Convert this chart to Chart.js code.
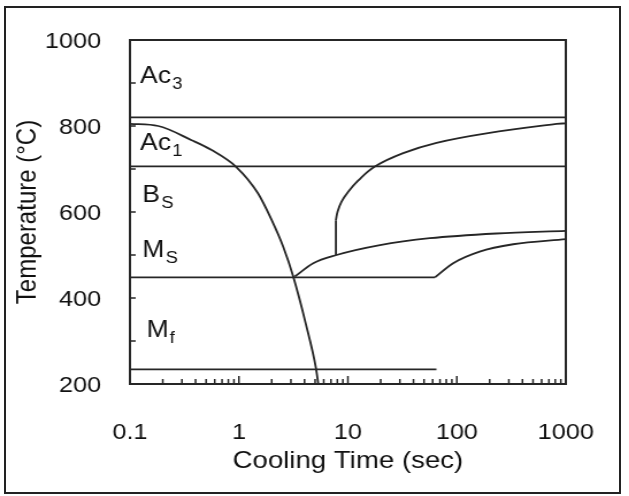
<!DOCTYPE html>
<html>
<head>
<meta charset="utf-8">
<script src="https://cdn.jsdelivr.net/npm/chart.js@4.4.0/dist/chart.umd.min.js"></script>
<style>
  html, body { margin: 0; padding: 0; background: #fff; overflow: hidden; }
  #wrap { position: relative; width: 629px; height: 496px; overflow: hidden; }
  /* the scanned figure is a little wider than tall, so stretch the drawing */
  #stretch { position: absolute; left: 0; top: 0; width: 547px; height: 496px;
             transform: scaleX(1.15); transform-origin: 0 0; }
  #frame { position: absolute; left: 4px; top: 6px; width: 617px; height: 488px;
           box-sizing: border-box; border: 2px solid #222; pointer-events: none; }
</style>
</head>
<body>
<div id="wrap">
  <div id="stretch"><canvas id="cct"></canvas></div>
  <div id="frame"></div>
</div>
<script>
// values (time in s, temperature in °C)
const decadeTicks = [0.1, 1, 10, 100, 1000];
const tempMinorTicks = [300, 400, 500, 600, 700, 800, 900];

const ac3Time = [0.1, 1000];
const ac3Temp = [820, 820];

const ac1Time = [0.1, 1000];
const ac1Temp = [706, 706];

const msTime = [0.1, 63];
const msTemp = [448, 448];

const mfTime = [0.1, 65];
const mfTemp = [234, 234];

// cooling curve
const coolTime = [0.1, 0.182, 0.368, 0.562, 0.952, 1.5, 2.0, 2.55, 3.15, 4.1, 5.1, 5.35];
const coolTemp = [805, 800, 767, 744, 704, 643, 581, 519, 450, 341, 236, 200];

// upper transformation curve: vertical stem, then the bend to the right
const upperStemTime = [7.76, 7.76];
const upperStemTemp = [500, 581];
const upperTime = [7.76, 8.05, 8.75, 10.07, 12.4, 17.7, 32.2, 65.1, 187, 822, 1000];
const upperTemp = [581, 601, 624, 647, 673, 706, 737, 761, 783, 805, 806];

// middle curve
const midTime = [3.26, 4.81, 7.87, 19.7, 56.5, 231, 1000];
const midTemp = [450, 481, 500, 523, 539, 550, 556];

// lower right curve after the Ms knee
const lowTime = [63, 92.5, 162, 329, 1000];
const lowTemp = [448, 481, 508, 525, 537];

// phase labels
const phaseNames = ['Ac', 'Ac', 'B', 'M', 'M'];
const phaseSubs = ['3', '1', 'S', 'S', 'f'];
const phaseTime = [0.124, 0.124, 0.13, 0.13, 0.142];
const phaseTemp = [900, 744, 623, 495, 309];

const FONT = '"Liberation Sans", Arial, sans-serif';
const INK = '#262626';
const TEXT = '#111';

function pts(xs, ys) {
    return xs.map((x, i) => ({ x: x, y: ys[i] }));
}

function straight(xs, ys) {
    return { data: pts(xs, ys), borderColor: INK, borderWidth: 1.8, pointRadius: 0, tension: 0, fill: false };
}

function curved(xs, ys) {
    return { data: pts(xs, ys), borderColor: INK, borderWidth: 1.8, pointRadius: 0,
             cubicInterpolationMode: 'monotone', fill: false };
}

function smooth(xs, ys) {
    return { data: pts(xs, ys), borderColor: INK, borderWidth: 1.8, pointRadius: 0, tension: 0.4, fill: false };
}

// frame, inward ticks and phase labels
const decorPlugin = {
    id: 'decor',
    afterDraw(chart) {
        const { ctx, chartArea: a } = chart;
        const xs = chart.scales.x, ys = chart.scales.y;
        ctx.save();
        ctx.strokeStyle = INK;
        ctx.lineWidth = 2;
        ctx.strokeRect(a.left, a.top, a.right - a.left, a.bottom - a.top);

        ctx.lineWidth = 1.5;
        ctx.beginPath();
        tempMinorTicks.forEach(t => {
            const py = ys.getPixelForValue(t);
            ctx.moveTo(a.left, py);
            ctx.lineTo(a.left + 5, py);
        });
        for (let d = 0; d < decadeTicks.length - 1; d++) {
            for (let m = 2; m <= 10; m++) {
                const px = xs.getPixelForValue(decadeTicks[d] * m);
                const len = m === 10 ? 8 : 5;
                ctx.moveTo(px, a.bottom);
                ctx.lineTo(px, a.bottom - len);
            }
        }
        ctx.stroke();

        ctx.fillStyle = TEXT;
        ctx.textBaseline = 'alphabetic';
        ctx.textAlign = 'left';
        phaseNames.forEach((name, i) => {
            const px = xs.getPixelForValue(phaseTime[i]);
            const py = ys.getPixelForValue(phaseTemp[i]);
            ctx.font = '23px ' + FONT;
            ctx.fillText(name, px, py);
            const w = ctx.measureText(name).width;
            ctx.font = '16px ' + FONT;
            ctx.fillText(phaseSubs[i], px + w + 1, py + 6);
        });
        ctx.restore();
    }
};

const chart = new Chart(document.getElementById('cct').getContext('2d'), {
    type: 'line',
    data: {
        datasets: [
            straight(ac3Time, ac3Temp),
            straight(ac1Time, ac1Temp),
            straight(msTime, msTemp),
            straight(mfTime, mfTemp),
            curved(coolTime, coolTemp),
            straight(upperStemTime, upperStemTemp),
            smooth(upperTime, upperTemp),
            curved(midTime, midTemp),
            curved(lowTime, lowTemp)
        ]
    },
    options: {
        responsive: true,
        maintainAspectRatio: false,
        animation: false,
        layout: { padding: { left: 0, right: 55, top: 40, bottom: 0 } },
        plugins: {
            legend: { display: false },
            tooltip: { enabled: false }
        },
        scales: {
            x: {
                type: 'logarithmic',
                min: 0.1,
                max: 1000,
                grid: { display: false },
                border: { display: false },
                afterBuildTicks: (scale) => {
                    scale.ticks = decadeTicks.map(v => ({ value: v }));
                },
                afterFit: (scale) => { scale.height = 112; },
                ticks: {
                    autoSkip: false,
                    maxRotation: 0,
                    padding: 28,
                    color: TEXT,
                    font: { family: FONT, size: 22 },
                    callback: (v) => String(v)
                },
                title: {
                    display: true,
                    text: 'Cooling Time (sec)',
                    color: TEXT,
                    font: { family: FONT, size: 24 },
                    padding: { top: 0, bottom: 20 }
                }
            },
            y: {
                type: 'linear',
                min: 200,
                max: 1000,
                grid: { display: false },
                border: { display: false },
                afterFit: (scale) => { scale.width = 113; },
                ticks: {
                    stepSize: 200,
                    padding: 17,
                    labelOffset: 2,
                    color: TEXT,
                    font: { family: FONT, size: 22 },
                    callback: (v) => String(v)
                },
                title: {
                    display: true,
                    text: 'Temperature (°C)',
                    color: TEXT,
                    font: { family: FONT, size: 24 },
                    padding: { top: 10, bottom: 0 }
                }
            }
        }
    },
    plugins: [decorPlugin]
});
</script>
</body>
</html>
